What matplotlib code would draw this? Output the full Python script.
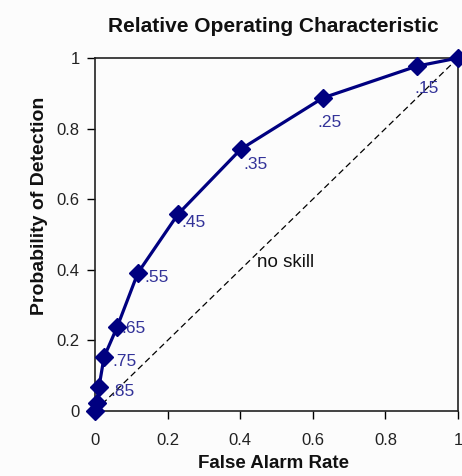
import matplotlib
matplotlib.use("Agg")
import matplotlib.pyplot as plt

# Data
far = [0.0, 0.0055, 0.011, 0.025, 0.061, 0.118, 0.229, 0.402, 0.628, 0.887, 1.0]
pod = [0.0, 0.023, 0.068, 0.153, 0.238, 0.391, 0.558, 0.742, 0.887, 0.977, 1.0]
labels = ["", "", ".85", ".75", ".65", ".55", ".45", ".35", ".25", ".15", ""]
xticks = [0, 0.2, 0.4, 0.6, 0.8, 1]
yticks = [0, 0.2, 0.4, 0.6, 0.8, 1]
xtick_labels = ["0", "0.2", "0.4", "0.6", "0.8", "1"]
ytick_labels = ["0", "0.2", "0.4", "0.6", "0.8", "1"]

plt.rcParams['font.family'] = ['Liberation Sans', 'DejaVu Sans']

W, H = 462, 476
fig = plt.figure(figsize=(W / 100, H / 100), dpi=100)
fig.patch.set_facecolor('#fcfcfc')
ax = fig.add_axes([95 / W, 65 / H, 363 / W, 353 / H])
ax.set_facecolor('#fcfcfc')

# no skill diagonal
ax.plot([0, 1], [0, 1], color='black', lw=0.9, ls=(0, (5, 3)))
ax.text(0.446, 0.422, "no skill", fontsize=13.5, color='#111111', va='center', ha='left')

ax.plot(far, pod, color='#000080', lw=2.3, marker='D', markersize=9,
        markerfacecolor='#000080', markeredgecolor='#000080', clip_on=False, zorder=5)

# point label offsets (points)
offsets = {
    ".85": (8, -3), ".75": (6, -3), ".65": (3, -1), ".55": (5, -3),
    ".45": (2, -6), ".35": (2, -11), ".25": (-4, -18), ".15": (-2, -16),
}
for x, y, lab in zip(far, pod, labels):
    if lab:
        dx, dy = offsets[lab]
        ax.annotate(lab, (x, y), xytext=(dx, dy), textcoords='offset points',
                    fontsize=12.5, color='#333399', va='center', ha='left')

ax.set_xlim(0, 1)
ax.set_ylim(0, 1)
ax.set_xticks(xticks)
ax.set_xticklabels(xtick_labels)
ax.set_yticks(yticks)
ax.set_yticklabels(ytick_labels)
ax.tick_params(axis='both', direction='out', length=6, width=1, labelsize=12,
               labelcolor='#222222')
ax.tick_params(axis='x', pad=10)
ax.tick_params(axis='y', pad=5)
for s in ax.spines.values():
    s.set_linewidth(1.2)
    s.set_color('#222222')

fig.text(273 / W, 8 / H, "False Alarm Rate", fontsize=13.5, fontweight='bold',
         ha='center', va='baseline', color='#111111')
fig.text(40 / W, 1 - 206 / H, "Probability of Detection", fontsize=14, fontweight='bold',
         ha='center', va='center', rotation=90, color='#111111')
fig.text(273 / W, 1 - 32 / H, "Relative Operating Characteristic", fontsize=15,
         fontweight='bold', ha='center', va='baseline', color='#111111')

fig.savefig("out.png", dpi=100, facecolor=fig.get_facecolor())
